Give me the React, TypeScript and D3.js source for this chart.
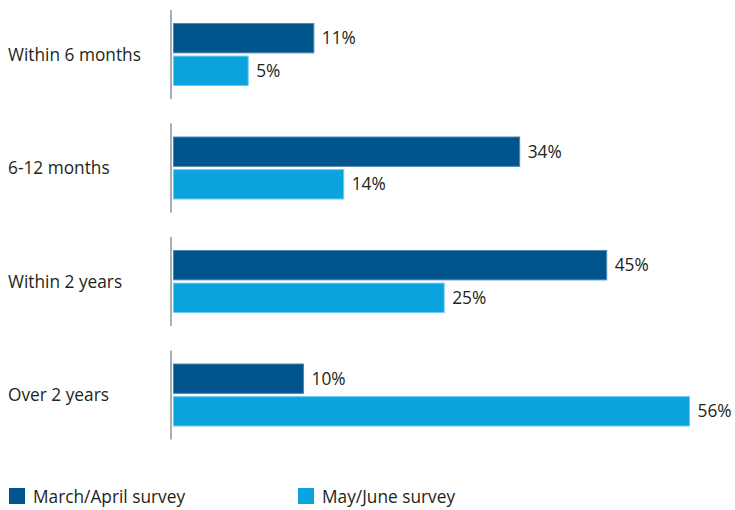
import React from "react";
import * as d3 from "d3";

const categories = ["Within 6 months", "6-12 months", "Within 2 years", "Over 2 years"];
const marchApril = [11, 34, 45, 10];
const mayJune = [5, 14, 25, 56];
const seriesNames = ["March/April survey", "May/June survey"];
const colors = ["#00558C", "#0BA3DD"];

const W = 735;
const H = 510;
const axisX = 171;
const barX0 = 173.5;
const FONT = "'Open Sans', Lato, sans-serif";
const FS = 17.3;

export default function App() {
  const y = d3.scaleBand<string>().domain(categories).range([10, 464]).paddingInner(0).paddingOuter(0);
  const inner = d3.scaleBand<number>().domain([0, 1]).range([0, 62]).paddingInner(0.1);
  const x = d3.scalePow().exponent(0.8).domain([0, 56]).range([barX0, barX0 + 516]);
  const series = [marchApril, mayJune];
  const groupTop = (c: string) => (y(c) as number) + 13.5;

  return (
    <div style={{ position: "absolute", left: 0, top: 0, width: W, height: H }}>
      <svg width={W} height={H} style={{ display: "block", background: "#fff" }} fontFamily={FONT}>
        {categories.map((c, i) => {
          const top = groupTop(c);
          return (
            <g key={c}>
              <line x1={axisX} x2={axisX} y1={top - 13.5} y2={top + 62 + 13.5} stroke="#A7B0BA" strokeWidth={2} />
              <text x={8} y={top + 31} dy="0.35em" fontSize={FS} fill="#231F20">{c}</text>
              {series.map((s, j) => {
                const by = top + (inner(j) as number);
                const bh = inner.bandwidth();
                const xe = x(s[i]);
                return (
                  <g key={j}>
                    <rect x={barX0} y={by} width={xe - barX0} height={bh} fill={colors[j]} stroke={j === 0 ? "#4F86B5" : "#6CCBF0"} strokeWidth={1} />
                    <text x={xe + 8} y={by + bh / 2} dy="0.35em" fontSize={FS} fill="#231F20">{s[i]}%</text>
                  </g>
                );
              })}
            </g>
          );
        })}
        {seriesNames.map((n, j) => {
          const lx = j === 0 ? 9 : 298;
          return (
            <g key={n}>
              <rect x={lx} y={488} width={16} height={16} fill={colors[j]} />
              <text x={lx + 24} y={497} dy="0.35em" fontSize={FS} fill="#231F20">{n}</text>
            </g>
          );
        })}
      </svg>
    </div>
  );
}
